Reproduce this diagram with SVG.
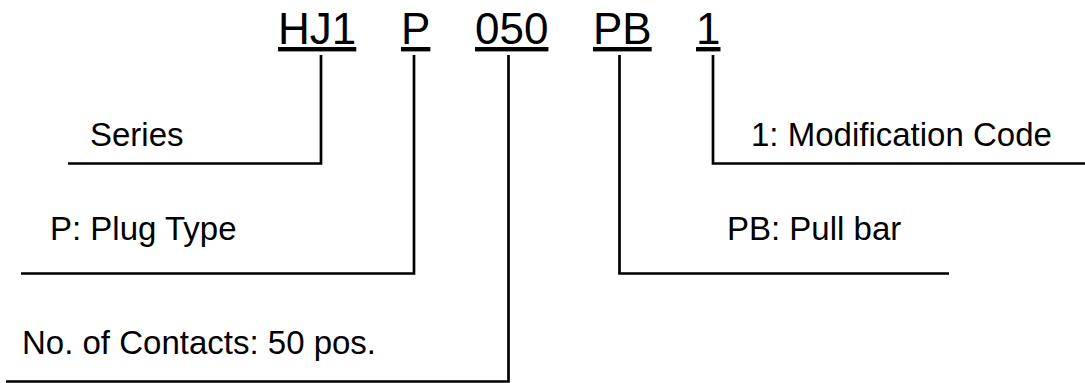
<svg xmlns="http://www.w3.org/2000/svg" width="1085" height="383" viewBox="0 0 1085 383">
<style>
.code{font-family:"Liberation Sans",Arial,sans-serif;font-size:44px;text-decoration:underline;fill:#000}
.lbl{font-family:"Liberation Sans",Arial,sans-serif;font-size:33px;fill:#000}
.ln{fill:none;stroke:#000;stroke-width:2.7;stroke-linejoin:miter}
</style>
<rect width="1085" height="383" fill="#fff"/>
<g id="code">
<text class="code" x="278" y="44">HJ1</text>
<text class="code" x="401" y="44">P</text>
<text class="code" x="475" y="44">050</text>
<text class="code" x="593" y="44">PB</text>
<text class="code" x="696" y="44">1</text>
</g>
<g id="series"><text class="lbl" x="90" y="146">Series</text></g>
<g id="plug"><text class="lbl" x="50" y="240">P: Plug Type</text></g>
<g id="contacts"><text class="lbl" x="22" y="354">No. of Contacts: 50 pos.</text></g>
<g id="pullbar"><text class="lbl" x="727" y="240">PB: Pull bar</text></g>
<g id="mod"><text class="lbl" x="751" y="146">1: Modification Code</text></g>
<g id="connectors">
<polyline class="ln" points="321,55 321,163.5 68,163.5"/>
<polyline class="ln" points="414,55 414,273.5 21,273.5"/>
<polyline class="ln" points="508.5,55 508.5,381.5 6,381.5"/>
<polyline class="ln" points="619.5,55 619.5,273.5 949,273.5"/>
<polyline class="ln" points="713,55 713,163.5 1085,163.5"/>
</g>
</svg>
